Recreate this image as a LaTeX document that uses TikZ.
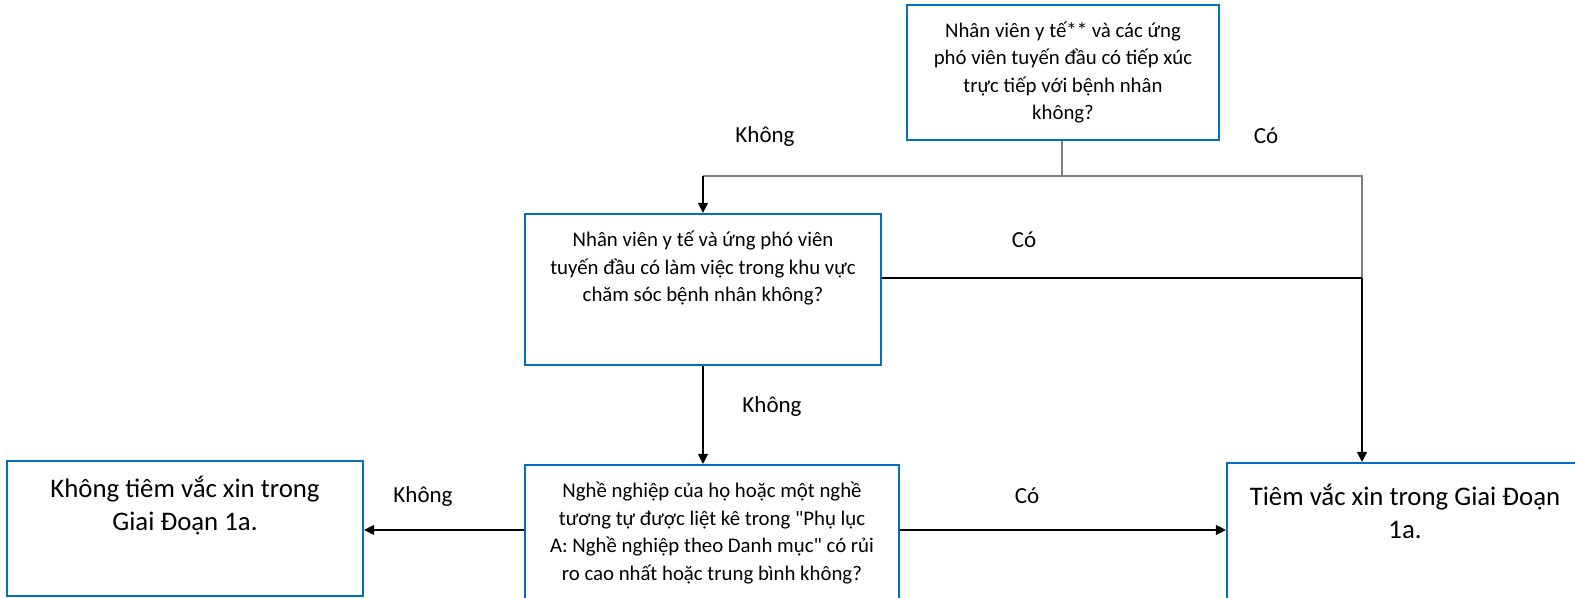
\documentclass[tikz,border=0pt]{standalone}
\usepackage{fontspec}
\setmainfont{Carlito}[Ligatures=TeXOff]
\usetikzlibrary{arrows.meta}
\definecolor{boxblue}{HTML}{0070C0}
\definecolor{lgray}{HTML}{7F7F7F}
\tikzset{
  box/.style={draw=boxblue, line width=1.1pt, rectangle, inner sep=0pt},
  txt/.style={align=center, font=\fontsize{10.4}{13.8}\selectfont, inner sep=0pt},
  bigtxt/.style={align=center, font=\fontsize{13.4}{16.5}\selectfont, inner sep=0pt},
  lbl/.style={font=\fontsize{11.5}{14}\selectfont, inner sep=0pt},
  conn/.style={line width=0.65pt, draw=black},
  gconn/.style={line width=0.65pt, draw=lgray},
  arr/.style={conn, -{Triangle[width=5pt,length=5pt]}}
}
\begin{document}
\begin{tikzpicture}[x=0.5pt,y=-0.5pt]
\useasboundingbox (0,0) rectangle (1575,598);
\clip (0,0) rectangle (1575,598);
\fill[white] (0,0) rectangle (1575,598);
% boxes
\node[box, minimum width=156pt, minimum height=67.5pt, txt] (A) at (1063,72.5)
  {Nhân viên y tế** và các ứng\\phó viên tuyến đầu có tiếp xúc\\trực tiếp với bệnh nhân\\không?};
\node[box, minimum width=178pt, minimum height=75.5pt] (B) at (703,289.5) {};
\node[box, minimum width=187pt, minimum height=87pt] (C) at (712,552) {};
\node[box, minimum width=178pt, minimum height=67.5pt] (L) at (185,528.5) {};
\node[box, minimum width=178pt, minimum height=88.5pt] (D) at (1405,551.5) {};
% texts
\node[txt] (Bt) at (703,268) {Nhân viên y tế và ứng phó viên\\tuyến đầu có làm việc trong khu vực\\chăm sóc bệnh nhân không?};
\node[txt] (Ct) at (712,533) {Nghề nghiệp của họ hoặc một nghề\\tương tự được liệt kê trong "Phụ lục\\A: Nghề nghiệp theo Danh mục" có rủi\\ro cao nhất hoặc trung bình không?};
\node[bigtxt] (Lt) at (185,506) {Không tiêm vắc xin trong\\Giai Đoạn 1a.};
\node[bigtxt] (Dt) at (1405,511) {Tiêm vắc xin trong Giai Đoạn\\1a.};
% labels
\node[lbl] (l1) at (765,136) {Không};
\node[lbl] (l2) at (1266,136) {Có};
\node[lbl] (l3) at (1024,240) {Có};
\node[lbl] (l4) at (772,406) {Không};
\node[lbl] (l5) at (423,496) {Không};
\node[lbl] (l6) at (1027,496) {Có};
% connectors
\coordinate (j1) at (1062,176);
\coordinate (j2) at (703,176);
\coordinate (j3) at (1362,176);
\coordinate (j4) at (1362,278);
\draw[gconn] (A.south -| j1) -- (j1);
\draw[gconn] (j2) -- (j3) -- (j4);
\draw[arr] (j2) -- (B.north);
\draw[conn] (B.east |- j4) -- (j4);
\draw[arr] (j4) -- (j4 |- D.north);
\draw[arr] (B.south) -- (B.south |- C.north);
\draw[arr] (C.west |- 0,530) -- (L.east |- 0,530);
\draw[arr] (C.east |- 0,530) -- (D.west |- 0,530);
\end{tikzpicture}
\end{document}
